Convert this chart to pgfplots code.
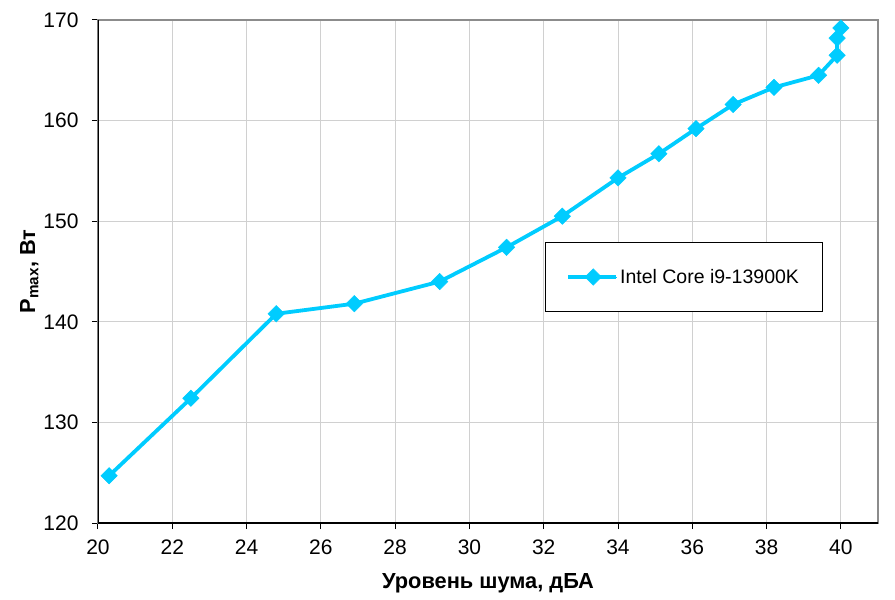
\documentclass[border=0pt]{standalone}
\usepackage{pgfplots}
\pgfplotsset{compat=1.18}
\usepackage{fontspec}
\setmainfont{Liberation Sans}
\definecolor{linec}{HTML}{00CCFF}
\definecolor{gridc}{HTML}{D0D0D0}
\begin{document}
\begin{tikzpicture}
\begin{axis}[
  scale only axis,
  width=780pt, height=503pt,
  xmin=20, xmax=41, ymin=120, ymax=170,
  xtick={20,22,...,40}, ytick={120,130,...,170},
  grid=major,
  major grid style={gridc, line width=1pt},
  axis line style={gray!90, line width=1.8pt},
  tick align=outside,
  major tick length=6pt,
  tick style={black, line width=1pt},
  xtick pos=bottom, ytick pos=left,
  /pgf/number format/assume math mode=true,
  ticklabel style={font=\fontsize{21}{24}\selectfont},
  xticklabel style={yshift=-7pt},
  yticklabel style={xshift=-10pt},
  xlabel={\textbf{Уровень шума, дБА}},
  ylabel={\textbf{P\textsubscript{max}, Вт}},
  label style={font=\fontsize{21.8}{24}\selectfont},
  xlabel style={yshift=-12pt},
  ylabel style={yshift=-2pt},
  legend style={at={(0.573,0.559)}, anchor=north west, draw=black, line width=0.8pt,
    inner xsep=21pt, inner ysep=25pt, font=\fontsize{19.5}{23}\selectfont,
    legend cell align=left},
  legend image code/.code={
    \path (0pt,0pt) -- (48pt,0pt);
    \draw[#1, line width=3.5pt] (3pt,0pt) -- (48pt,0pt);
    \draw[#1, mark repeat=2, mark phase=2, line width=0pt] plot coordinates {(3pt,0pt) (25pt,0pt) (48pt,0pt)};
  },
]
\addplot[linec, line width=3.8pt, mark=square*, mark size=5.8pt,
  mark options={rotate=45, solid, fill=linec, draw=linec, line width=0.5pt}]
coordinates {
(20.3,124.7) (22.5,132.4) (24.8,140.8) (26.9,141.8) (29.2,144.0) (31.0,147.4)
(32.5,150.5) (34.0,154.3) (35.1,156.7) (36.1,159.2) (37.1,161.6) (38.2,163.3)
(39.4,164.5) (39.9,166.5) (39.9,168.2) (40.0,169.2)
};
\addlegendentry{Intel Core i9-13900K}
\draw[black, line width=1.8pt] (rel axis cs:0,1) -- (rel axis cs:0,0) -- (rel axis cs:1,0);
\end{axis}
\path[use as bounding box] (-98pt,-77pt) rectangle (797pt,523pt);
\end{tikzpicture}
\end{document}
